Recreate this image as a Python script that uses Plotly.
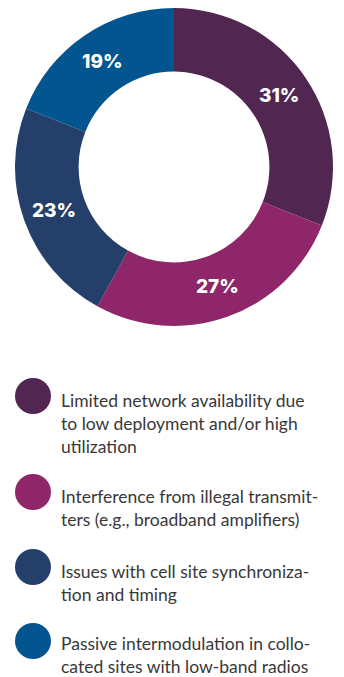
import math
import plotly.graph_objects as go

# Survey results: main causes of network issues
categories = [
    "Limited network availability due<br>to low deployment and/or high<br>utilization",
    "Interference from illegal transmit-<br>ters (e.g., broadband amplifiers)",
    "Issues with cell site synchroniza-<br>tion and timing",
    "Passive intermodulation in collo-<br>cated sites with low-band radios",
]
shares = [31, 27, 23, 19]
colors = ["#512651", "#8E2669", "#243F69", "#02558E"]

# legend rows (pixel layout, y measured from the top)
legend_marker_y = [396, 492, 567, 641]
legend_text_y = [389, 485, 560, 632]

W, H = 344, 677

# donut geometry in pixels
cx, cy = 174, 167
r_outer = 159
hole = 0.6
r_label = r_outer * (1 + hole) / 2

fig = go.Figure()

fig.add_trace(go.Pie(
    values=shares,
    labels=[c.replace("<br>", " ") for c in categories],
    marker=dict(colors=colors, line=dict(width=0)),
    hole=hole,
    sort=False,
    direction="clockwise",
    rotation=0,
    textinfo="none",
    domain=dict(x=[(cx - r_outer) / W, (cx + r_outer) / W],
                y=[1 - (cy + r_outer) / H, 1 - (cy - r_outer) / H]),
    showlegend=False,
    hoverinfo="label+percent",
))

# percentage labels at the middle of each ring segment
total = sum(shares)
start = 0.0
for v in shares:
    mid = (start + v / 2) / total * 2 * math.pi
    start += v
    fig.add_annotation(
        x=cx + r_label * math.sin(mid),
        y=cy - r_label * math.cos(mid),
        xref="x", yref="y",
        text=f"{v}%", showarrow=False,
        xanchor="center", yanchor="middle",
        font=dict(family="Inter", size=19, color="white", weight=800),
    )

# custom legend markers
fig.add_trace(go.Scatter(
    x=[33] * len(shares),
    y=legend_marker_y,
    mode="markers",
    marker=dict(size=36, color=colors, line=dict(width=0)),
    showlegend=False,
    hoverinfo="skip",
    xaxis="x",
    yaxis="y",
))

for text, ty in zip(categories, legend_text_y):
    fig.add_annotation(
        x=60, y=ty, xref="x", yref="y",
        text=text, showarrow=False,
        xanchor="left", yanchor="top", align="left",
        borderpad=0,
        font=dict(family="Lato", size=17.5, color="#383838"),
    )

fig.update_layout(
    width=W, height=H,
    margin=dict(l=0, r=0, t=0, b=0),
    paper_bgcolor="white",
    plot_bgcolor="rgba(0,0,0,0)",
    xaxis=dict(range=[0, W], visible=False, fixedrange=True, domain=[0, 1]),
    yaxis=dict(range=[H, 0], visible=False, fixedrange=True, domain=[0, 1]),
)

fig.write_html("out.html")
